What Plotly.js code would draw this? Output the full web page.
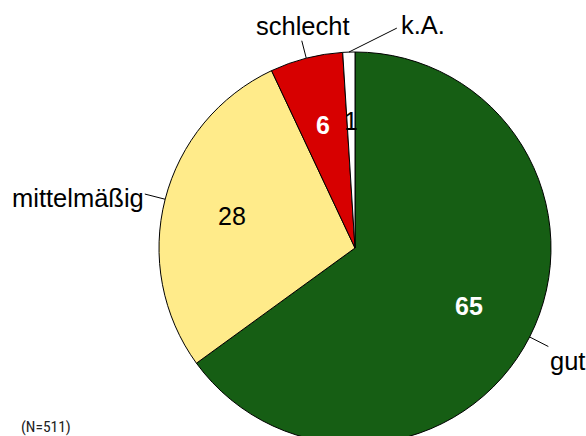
<!DOCTYPE html>
<html>
<head>
<meta charset="utf-8">
<script src="https://cdn.plot.ly/plotly-3.0.1.min.js"></script>
<style>
html,body{margin:0;padding:0;overflow:hidden;background:#fff;width:586px;height:436px;}
#chart{width:586px;height:460px;}
</style>
</head>
<body>
<div id="chart"></div>
<script>
// ---- data ----
const categories = ['gut', 'mittelmäßig', 'schlecht', 'k.A.'];
const values = [65, 28, 6, 1];
const sliceColors = ['#165e14', '#ffeb8a', '#d70000', '#ffffff'];
const valueLabelColors = ['#ffffff', '#000000', '#ffffff', '#000000'];
const valueLabelBold = [true, false, true, false];
const noteText = '(N=511)';

// ---- layout geometry ----
const W = 586, H = 460;
const M = {l: 159, r: 35, t: 52, b: 16};
const PW = W - M.l - M.r, PH = H - M.t - M.b;
const R = Math.min(PW, PH) / 2;
const CX = M.l + PW / 2, CY = M.t + PH / 2;
const toPX = px => (px - M.l) / PW;
const toPY = py => 1 - (py - M.t) / PH;

// outside label styling: line extension (px) and text offset/anchor
const outStyle = [
  {ext: 21, tdx: 0, tdy: 14, anchor: 'left'},
  {ext: 21, tdx: 1, tdy: 4, anchor: 'right'},
  {ext: 18, tdx: 1, tdy: -15, anchor: 'center'},
  {ext: 0, bend: [48, -24], tdx: 2, tdy: -3, anchor: 'left'}
];

const total = values.reduce((a, b) => a + b, 0);
const annotations = [];
const shapes = [];
let cum = 0;
values.forEach((v, i) => {
  const mid = (cum + v / 2) / total * 2 * Math.PI; // clockwise from 12 o'clock
  cum += v;
  const sx = Math.sin(mid), sy = -Math.cos(mid);
  // value label inside
  const lx = CX + 0.65 * R * sx, ly = CY + 0.65 * R * sy;
  annotations.push({
    xref: 'paper', yref: 'paper', x: toPX(lx), y: toPY(ly),
    text: valueLabelBold[i] ? '<b>' + values[i] + '</b>' : String(values[i]),
    showarrow: false, xanchor: 'center', yanchor: 'middle',
    font: {family: 'Liberation Sans, Arial, sans-serif', size: 25, color: valueLabelColors[i]}
  });
  // leader line
  const ex = CX + R * sx, ey = CY + R * sy;
  const st = outStyle[i];
  let tx, ty;
  if (st.bend) { tx = ex + st.bend[0]; ty = ey + st.bend[1]; }
  else { tx = CX + (R + st.ext) * sx; ty = CY + (R + st.ext) * sy; }
  shapes.push({type: 'line', xref: 'paper', yref: 'paper',
    x0: toPX(ex), y0: toPY(ey), x1: toPX(tx), y1: toPY(ty),
    line: {color: '#000', width: 1}});
  annotations.push({
    xref: 'paper', yref: 'paper', x: toPX(tx + st.tdx), y: toPY(ty + st.tdy),
    text: categories[i], showarrow: false, xanchor: st.anchor, yanchor: 'middle',
    font: {family: 'Liberation Sans, Arial, sans-serif', size: 25.5, color: '#000'}
  });
});

annotations.push({
  xref: 'paper', yref: 'paper', x: toPX(19), y: toPY(427),
  text: noteText, showarrow: false, xanchor: 'left', yanchor: 'middle',
  font: {family: 'Liberation Sans Narrow, Roboto Condensed, Liberation Sans, sans-serif', size: 15.5, color: '#222'}
});

const trace = {
  type: 'pie',
  labels: categories,
  values: values,
  sort: false,
  direction: 'clockwise',
  rotation: 0,
  textinfo: 'none',
  hoverinfo: 'none',
  showlegend: false,
  marker: {colors: sliceColors, line: {color: '#000', width: 1}}
};

const layout = {
  width: W, height: H,
  margin: M,
  paper_bgcolor: '#fff',
  plot_bgcolor: '#fff',
  showlegend: false,
  annotations: annotations,
  shapes: shapes
};

Plotly.newPlot('chart', [trace], layout, {displayModeBar: false, staticPlot: true});
</script>
</body>
</html>
